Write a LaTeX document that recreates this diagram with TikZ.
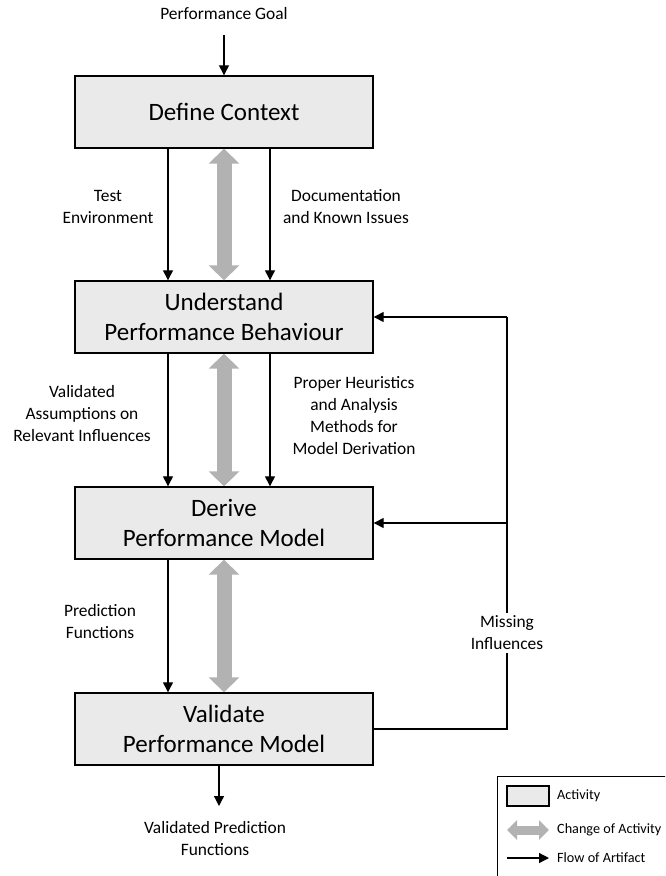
\documentclass[tikz,border=0pt]{standalone}
\usepackage{fontspec}
\setmainfont{Carlito}
\usetikzlibrary{arrows.meta}

\definecolor{boxfill}{RGB}{234,234,234}
\definecolor{changegray}{RGB}{178,178,178}

\tikzset{
  activity/.style={draw=black, line width=1.4pt, fill=boxfill,
    minimum width=298pt, minimum height=72pt, inner sep=0pt,
    align=center, font=\fontsize{25}{30}\selectfont},
  flow/.style={draw=black, line width=1.3pt,
    -{Triangle[width=10pt,length=10pt]}},
  plainline/.style={draw=black, line width=1.3pt},
  change/.style={draw=changegray, line width=15pt, line cap=butt,
    {Triangle[width=30pt,length=15pt]}-{Triangle[width=30pt,length=15pt]}},
  legchange/.style={draw=changegray, line width=9pt, line cap=butt,
    {Triangle[width=19pt,length=10pt]}-{Triangle[width=19pt,length=10pt]}},
  lbl/.style={align=center, inner sep=0pt, font=\fontsize{17.4}{22}\selectfont},
  leglbl/.style={anchor=west, inner sep=0pt, font=\fontsize{14.2}{17}\selectfont},
}

\begin{document}
\begin{tikzpicture}[x=1pt,y=-1pt]
\useasboundingbox (0,0) rectangle (665,876);
\clip (0,0) rectangle (665,876);

% activities
\node[activity] (b1) at (224,112) {Define Context};
\node[activity] (b2) at (224,317) {Understand\\Performance Behaviour};
\node[activity] (b3) at (224,523) {Derive\\Performance Model};
\node[activity] (b4) at (224,729) {Validate\\Performance Model};

% column positions of the artifact flows
\coordinate (xl) at (168,0);
\coordinate (xr) at (270,0);
\coordinate (xc) at (224,0);
\coordinate (xo) at (219,0);
\coordinate (xf) at (507,0);

% input and output
\node[lbl] (goal) at (224,14) {Performance Goal};
\coordinate (goalend) at (224,35);
\draw[flow] (goalend) -- (b1.north);

\coordinate (outend) at (219,806);
\draw[flow] (b4.south -| xo) -- (outend);
\node[lbl] (vpf) at (215,839) {Validated Prediction\\Functions};

% changes of activity
\draw[change] (b1.south -| xc) -- (b2.north -| xc);
\draw[change] (b2.south -| xc) -- (b3.north -| xc);
\draw[change] (b3.south -| xc) -- (b4.north -| xc);

% artifacts between activities
\draw[flow] (b1.south -| xl) -- (b2.north -| xl);
\draw[flow] (b1.south -| xr) -- (b2.north -| xr);
\draw[flow] (b2.south -| xl) -- (b3.north -| xl);
\draw[flow] (b2.south -| xr) -- (b3.north -| xr);
\draw[flow] (b3.south -| xl) -- (b4.north -| xl);

\node[lbl] (l1) at (108,207) {Test\\Environment};
\node[lbl] (l2) at (346,207) {Documentation\\and Known Issues};
\node[lbl] (l3) at (82,414) {Validated\\Assumptions on\\Relevant Influences};
\node[lbl] (l4) at (354,416) {Proper Heuristics\\and Analysis\\Methods for\\Model Derivation};
\node[lbl] (l5) at (100,622) {Prediction\\Functions};

% feedback of missing influences
\coordinate (fb4) at (b4.east -| xf);
\coordinate (fb3) at (b3.east -| xf);
\coordinate (fb2) at (b2.east -| xf);
\draw[plainline] (b4.east) -- (fb4) -- (fb2);
\draw[flow] (fb2) -- (b2.east);
\draw[flow] (fb3) -- (b3.east);
\node[lbl, fill=white, inner sep=3pt] (mi) at (507,633) {Missing\\Influences};

% legend
\node[draw=black, line width=1.2pt, fill=white, minimum width=200pt,
  minimum height=120pt, anchor=north west, inner sep=0pt] (legend) at (497,776) {};
\node[draw=black, line width=1.4pt, fill=boxfill, minimum width=42pt,
  minimum height=20pt, inner sep=0pt] (legact) at (528,796) {};
\node[leglbl] (legacttxt) at (557,796) {Activity};
\coordinate (lcs) at (507,830);
\coordinate (lce) at (549,830);
\draw[legchange] (lcs) -- (lce);
\node[leglbl] (legchtxt) at (557,830) {Change of Activity};
\coordinate (lfs) at (507,858);
\coordinate (lfe) at (549,858);
\draw[flow] (lfs) -- (lfe);
\node[leglbl] (legflowtxt) at (557,858) {Flow of Artifact};
\end{tikzpicture}
\end{document}
